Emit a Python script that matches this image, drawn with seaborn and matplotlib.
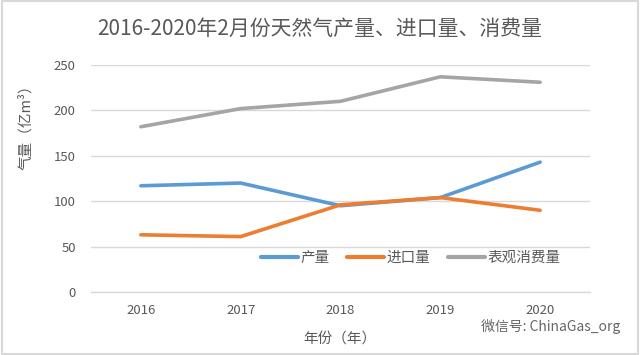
import matplotlib
matplotlib.use("Agg")
import matplotlib.pyplot as plt
import seaborn as sns
import pandas as pd

years = ["2016", "2017", "2018", "2019", "2020"]
production = [117, 120, 95, 104, 143]
imports = [63, 61, 96, 104, 90]
consumption = [182, 202, 210, 237, 231]
series_names = ["产量", "进口量", "表观消费量"]
colors = ["#5B9BD5", "#ED7D31", "#A5A5A5"]

rows = []
for name, vals in zip(series_names, [production, imports, consumption]):
    for i, (y, v) in enumerate(zip(years, vals)):
        rows.append({"idx": i, "year": y, "value": v, "series": name})
df = pd.DataFrame(rows)

sns.set_theme(style="white")
plt.rcParams['font.family'] = ['Noto Sans CJK SC', 'DejaVu Sans']
txt = "#595959"

fig = plt.figure(figsize=(6.4, 3.55), dpi=100)
ax = fig.add_axes([91/640, 1-292/355, (590-91)/640, (292-65)/355])

sns.lineplot(data=df, x="idx", y="value", hue="series", palette=colors,
             hue_order=series_names, linewidth=2.6, ax=ax, legend=True)

ax.set_xlim(-0.5, 4.5)
ax.set_ylim(0, 250)
ax.set_yticks([0, 50, 100, 150, 200, 250])
ax.set_xticks(range(len(years)))
ax.set_xticklabels(years)
ax.set_xticks([i - 0.5 for i in range(len(years) + 1)], minor=True)
ax.tick_params(axis="x", which="major", length=0, pad=9, labelsize=9.5, colors=txt)
ax.tick_params(axis="x", which="minor", length=4, color="#D9D9D9", width=1, direction="out")
ax.tick_params(axis="y", length=0, pad=11, labelsize=9.5, colors=txt)
ax.grid(axis="y", color="#D9D9D9", linewidth=1)
ax.set_axisbelow(True)
for s in ["left", "right", "top"]:
    ax.spines[s].set_visible(False)
ax.spines["bottom"].set_color("#D9D9D9")
ax.spines["bottom"].set_linewidth(1)

ax.set_xlabel("年份（年）", fontsize=10.5, color=txt)
ax.xaxis.set_label_coords((340-91)/499, -(333-292)/227)
ax.set_ylabel("气量（亿m³）", fontsize=10.5, color=txt)
ax.yaxis.set_label_coords(-(91-33)/499, (292-124)/227)

leg = ax.legend(loc="center", frameon=False, ncol=3,
                fontsize=10.5, handlelength=2.5, columnspacing=1.2, handletextpad=0.2)
leg.set_bbox_to_anchor(((411-91)/499, (292-258)/227), transform=ax.transAxes)
for t in leg.get_texts():
    t.set_color(txt)
for l in leg.get_lines():
    l.set_linewidth(3)

fig.text(0.5, 1-29/355, "2016-2020年2月份天然气产量、进口量、消费量", ha="center", va="center",
         fontsize=15, color=txt)
fig.text(620/640, 1-327/355, "微信号: ChinaGas_org", ha="right", va="center", fontsize=10, color="#666666")

fig.patches.append(plt.Rectangle((0.003, 0.004), 0.994, 0.992, transform=fig.transFigure,
                                 fill=False, edgecolor="#D9D9D9", linewidth=1.5))
fig.savefig("out.png", dpi=100)
